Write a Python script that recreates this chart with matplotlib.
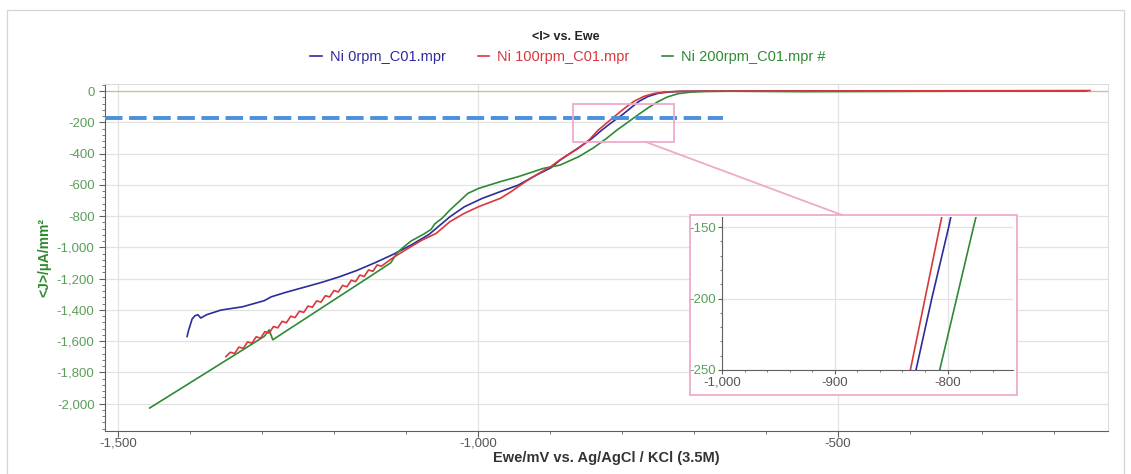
import matplotlib.pyplot as plt
from matplotlib.ticker import FuncFormatter, MultipleLocator
from matplotlib.patches import Rectangle, ConnectionPatch

plt.rcParams['font.family'] = ['Liberation Sans', 'DejaVu Sans']
plt.rcParams['axes.unicode_minus'] = False

# Ni 0rpm_C01.mpr
e_0rpm = [-1404, -1402, -1397, -1393, -1389, -1385, -1377, -1357, -1327, -1297,
          -1287, -1268, -1243, -1218, -1193, -1168, -1143, -1118, -1093, -1068,
          -1039, -1019, -994, -969, -944, -919, -899, -886, -860, -842,
          -828, -814, -799, -787, -776, -764, -750, -735, -715, -690,
          -600, -500, -350, -200, -155]
j_0rpm = [-1571, -1533, -1459, -1438, -1432, -1453, -1432, -1402, -1381, -1342,
          -1317, -1290, -1258, -1226, -1190, -1148, -1099, -1046, -986, -918,
          -805, -741, -687, -644, -602, -538, -492, -442, -362, -305,
          -250, -200, -150, -105, -65, -35, -15, -6, -2, -1,
          0, 0, 1, 1, 1]

# Ni 100rpm_C01.mpr
e_100rpm = [-1350, -1344, -1338, -1332, -1326, -1320, -1314, -1308, -1302, -1296,
            -1290, -1284, -1278, -1272, -1266, -1260, -1254, -1248, -1242, -1236,
            -1230, -1224, -1218, -1212, -1206, -1200, -1194, -1188, -1182, -1176,
            -1170, -1164, -1158, -1152, -1146, -1140, -1134,
            -1125, -1118, -1100, -1078, -1058, -1039, -1019, -999, -969, -954,
            -934, -914, -899, -886, -860, -845, -833, -820, -807, -795,
            -783, -770, -755, -740, -720, -690, -600, -450, -300, -150]
j_100rpm = [-1700, -1672, -1680, -1639, -1647, -1606, -1614, -1573, -1582, -1540,
            -1549, -1507, -1516, -1474, -1483, -1441, -1450, -1409, -1417, -1376,
            -1384, -1343, -1351, -1310, -1318, -1277, -1286, -1244, -1253, -1211,
            -1220, -1178, -1187, -1145, -1154, -1113, -1121,
            -1090, -1067, -1015, -955, -911, -836, -783, -740, -687, -644,
            -580, -523, -484, -440, -365, -310, -250, -200, -150, -105,
            -65, -35, -15, -6, -2, -1, 0, 1, 2, 3]

# Ni 200rpm_C01.mpr #
e_200rpm = [-1456, -1400, -1350, -1297, -1290, -1285, -1250, -1218, -1180, -1150,
            -1121, -1113, -1105, -1093, -1075, -1065, -1060, -1050, -1039, -1014,
            -999, -969, -944, -909, -886, -860, -840, -822, -807, -792,
            -777, -763, -750, -737, -722, -705, -685, -650, -550, -400,
            -250, -155]
j_200rpm = [-2029, -1868, -1724, -1571, -1529, -1592, -1487, -1391, -1277, -1187,
            -1099, -1040, -1005, -960, -915, -885, -850, -815, -762, -655,
            -623, -580, -548, -495, -474, -420, -365, -305, -250, -200,
            -150, -105, -68, -38, -17, -7, -3, -1, -4, -2,
            0, 0]

series = [
    ("Ni 0rpm_C01.mpr", e_0rpm, j_0rpm, "#2c2c9c"),
    ("Ni 200rpm_C01.mpr #", e_200rpm, j_200rpm, "#2f8a34"),
    ("Ni 100rpm_C01.mpr", e_100rpm, j_100rpm, "#d8383c"),
]
legend_order = [0, 2, 1]

ref_level = -175          # dashed reference current
ref_end = -660
zoom_box = (-868, -728, -326, -83)   # E min, E max, J min, J max
W, H = 1131, 474

grid_c = "#e2e2e2"
axis_c = "#606060"
tick_c = "#555555"
ytick_c = "#5a9e5a"
pink = "#eeaacb"

thousands = FuncFormatter(lambda v, p: "{:,.0f}".format(v))

fig = plt.figure(figsize=(W / 100, H / 100), dpi=100)
fig.patches.append(Rectangle((7 / W, -0.01), (1124 - 7) / W, (H - 10) / H + 0.01,
                             transform=fig.transFigure, fill=False,
                             ec="#d4d4d4", lw=0.9))

ax = fig.add_axes([105 / W, 1 - 431 / H, (1108 - 105) / W, (431 - 84) / H])
lines = []
for name, e, j, c in series:
    ln, = ax.plot(e, j, color=c, lw=1.2, label=name)
    lines.append(ln)
ax.axhline(0, color="#cdbf86", lw=0.9, zorder=1)
ax.plot([-1518, ref_end], [ref_level, ref_level], color="#4a90dc", lw=2.8,
        linestyle=(0, (4.5, 1.7)), zorder=5)
ax.add_patch(Rectangle((zoom_box[0], zoom_box[2]), zoom_box[1] - zoom_box[0],
                       zoom_box[3] - zoom_box[2], fill=False, ec=pink, lw=1.3, zorder=6))

ax.set_xlim(-1518, -125)
ax.set_ylim(-2176, 45)
ax.xaxis.set_major_locator(MultipleLocator(500))
ax.xaxis.set_minor_locator(MultipleLocator(100))
ax.yaxis.set_major_locator(MultipleLocator(200))
ax.yaxis.set_minor_locator(MultipleLocator(40))
ax.xaxis.set_major_formatter(thousands)
ax.yaxis.set_major_formatter(thousands)
ax.grid(True, which="major", color=grid_c, lw=0.9)
ax.set_axisbelow(True)
for s in ["top", "right"]:
    ax.spines[s].set_color("#dcdcdc")
for s in ["left", "bottom"]:
    ax.spines[s].set_color(axis_c)
ax.tick_params(axis="x", colors=axis_c, labelcolor=tick_c, labelsize=9.5, length=4, pad=1)
ax.tick_params(axis="y", colors=axis_c, labelcolor=ytick_c, labelsize=9.5, length=4)
ax.tick_params(which="minor", colors=axis_c, length=2)

ax.set_xlabel("Ewe/mV vs. Ag/AgCl / KCl (3.5M)", fontsize=10.5, fontweight="bold",
              color="#333333", labelpad=1)
ax.set_ylabel("<J>/µA/mm²", fontsize=10, fontweight="bold", color="#2e8b2e",
              labelpad=4)

fig.text(566 / W, 1 - 37 / H, "<I> vs. Ewe", ha="center", va="center",
         fontsize=9, fontweight="bold", color="#222222")
fig.legend([lines[i] for i in legend_order],
           [series[i][0] for i in legend_order],
           loc="center", bbox_to_anchor=(568 / W, 1 - 57 / H), ncol=3,
           frameon=False, fontsize=10.5, labelcolor="linecolor",
           handlelength=0.8, handletextpad=0.55, columnspacing=2.2)

# zoomed view
fig.patches.append(Rectangle((690 / W, 1 - 395 / H), (1017 - 690) / W, (395 - 215) / H,
                             transform=fig.transFigure, fill=True, fc="white",
                             ec=pink, lw=1.3, zorder=3))
con = ConnectionPatch(xyA=(-767, zoom_box[2]), coordsA=ax.transData,
                      xyB=(842 / W, 1 - 215 / H), coordsB=fig.transFigure,
                      color=pink, lw=1.3, zorder=7)
fig.add_artist(con)

axi = fig.add_axes([722 / W, 1 - 370 / H, (1013 - 722) / W, (370 - 217) / H], zorder=4)
for name, e, j, c in series:
    axi.plot(e, j, color=c, lw=1.2)
axi.set_xlim(-1000, -742)
axi.set_ylim(-250, -143)
axi.xaxis.set_major_locator(MultipleLocator(100))
axi.xaxis.set_minor_locator(MultipleLocator(20))
axi.yaxis.set_major_locator(MultipleLocator(50))
axi.yaxis.set_minor_locator(MultipleLocator(10))
axi.xaxis.set_major_formatter(thousands)
axi.yaxis.set_major_formatter(thousands)
axi.grid(True, which="major", color=grid_c, lw=0.9)
axi.set_axisbelow(True)
for s in ["top", "right"]:
    axi.spines[s].set_visible(False)
for s in ["left", "bottom"]:
    axi.spines[s].set_color(axis_c)
axi.tick_params(axis="x", colors=axis_c, labelcolor=tick_c, labelsize=9.5, length=3, pad=2)
axi.tick_params(axis="y", colors=axis_c, labelcolor=ytick_c, labelsize=9.5, length=3, pad=1)
axi.tick_params(which="minor", colors=axis_c, length=1.5)

fig.savefig("out.png", dpi=100)
